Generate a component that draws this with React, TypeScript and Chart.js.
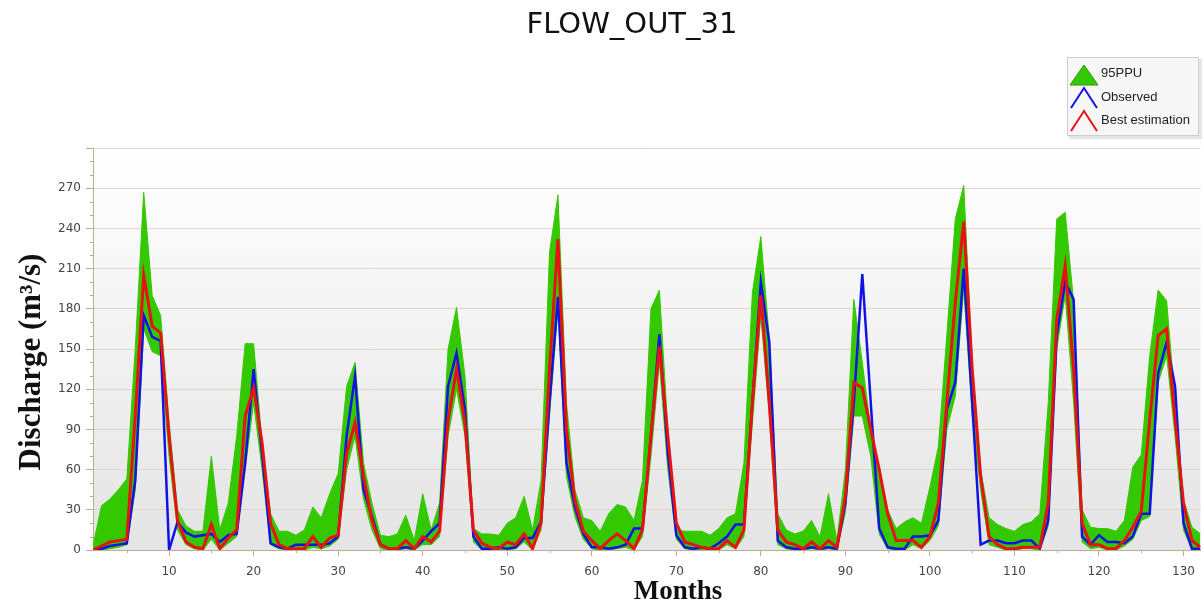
import React, { useEffect, useRef } from 'react';
import { Chart, registerables } from 'chart.js';

Chart.register(...registerables);

const chartTitle = 'FLOW_OUT_31';
const yAxisTitle = 'Discharge (m³/s)';
const xAxisTitle = 'Months';
const legendLabels = ['95PPU', 'Observed', 'Best estimation'];

const monthCount = 132;
const months = Array.from({ length: monthCount }, (_, i) => i + 1);

const upper95 = [
  3, 33, 38, 45, 53, 150, 267, 190, 175, 95,
  30, 18, 14, 14, 70, 15, 35, 85, 154, 154,
  80, 27, 14, 14, 11, 15, 32, 24, 42, 57,
  122, 140, 65, 35, 11, 10, 12, 26, 7, 42,
  15, 35, 150, 181, 130, 16, 12, 12, 11, 20,
  24, 40, 15, 52, 222, 265, 110, 45, 24, 22,
  14, 27, 34, 32, 22, 52, 180, 194, 90, 15,
  14, 14, 14, 11, 16, 24, 27, 65, 192, 234,
  158, 27, 15, 12, 14, 22, 10, 42, 7, 60,
  187, 140, 90, 62, 30, 16, 21, 24, 20, 47,
  77, 160, 247, 272, 140, 60, 24, 19, 16, 14,
  19, 21, 27, 110, 247, 252, 185, 30, 17, 16,
  16, 14, 22, 62, 71, 145, 194, 186, 110, 37,
  17, 12,
];

const lower95 = [
  0, 0, 1, 2, 4, 45, 165, 148, 145, 70,
  15, 4, 1, 0, 8, 0, 5, 10, 60, 110,
  60, 4, 1, 0, 0, 0, 2, 1, 3, 8,
  60, 85, 38, 15, 1, 0, 0, 1, 0, 4,
  4, 10, 85, 120, 85, 6, 0, 0, 0, 0,
  1, 6, 0, 15, 100, 180, 55, 25, 8, 1,
  0, 0, 1, 2, 0, 10, 70, 140, 60, 8,
  1, 0, 0, 0, 0, 4, 1, 10, 95, 175,
  100, 4, 1, 0, 0, 1, 0, 1, 0, 28,
  100, 100, 70, 12, 1, 0, 0, 4, 1, 7,
  18, 90, 115, 195, 100, 45, 4, 2, 0, 0,
  1, 1, 0, 18, 150, 190, 110, 6, 1, 2,
  0, 0, 3, 8, 22, 25, 125, 145, 85, 15,
  0, 0,
];

const observed = [
  0, 1, 3, 4, 5, 52, 175, 159, 156, 0,
  21, 13, 10, 11, 12, 6, 11, 12, 65, 135,
  72, 5, 2, 1, 4, 4, 4, 4, 5, 10,
  85, 130, 45, 25, 4, 1, 1, 2, 1, 7,
  14, 20, 122, 147, 105, 10, 1, 1, 2, 1,
  2, 9, 9, 21, 110, 189, 65, 32, 12, 2,
  2, 1, 2, 4, 16, 16, 85, 161, 72, 11,
  2, 1, 2, 1, 5, 10, 19, 19, 110, 200,
  155, 7, 2, 1, 1, 2, 1, 2, 1, 35,
  110, 206, 110, 16, 2, 1, 1, 10, 10, 11,
  22, 105, 125, 210, 110, 4, 7, 7, 5, 5,
  7, 7, 1, 22, 160, 200, 187, 10, 4, 11,
  6, 6, 5, 10, 27, 27, 132, 155, 122, 20,
  1, 1,
];

const bestEstimation = [
  0, 3, 6, 7, 8, 100, 205, 167, 162, 85,
  22, 6, 2, 1, 19, 1, 9, 15, 100, 121,
  80, 20, 4, 1, 1, 1, 10, 2, 9, 11,
  72, 95, 55, 22, 4, 1, 1, 7, 1, 10,
  6, 14, 97, 135, 95, 15, 5, 2, 1, 6,
  4, 12, 1, 20, 135, 232, 90, 37, 14, 7,
  1, 7, 12, 7, 1, 15, 85, 152, 85, 20,
  6, 4, 2, 1, 1, 7, 2, 15, 110, 190,
  110, 15, 6, 4, 1, 6, 1, 7, 2, 40,
  125, 121, 90, 60, 27, 7, 7, 7, 2, 10,
  35, 110, 185, 245, 135, 55, 10, 4, 1, 1,
  2, 2, 2, 35, 172, 212, 135, 20, 4, 4,
  1, 1, 7, 17, 29, 97, 160, 165, 97, 35,
  7, 2,
];

const xTickValues = [10, 20, 30, 40, 50, 60, 70, 80, 90, 100, 110, 120, 130];
const xMinorTickValues = [5, 15, 25, 35, 45, 55, 65, 75, 85, 95, 105, 115, 125];
const yMax = 300;
const yStep = 30;
const yMinorStep = 10;

const GREEN = 'rgb(52,200,0)';
const BLUE = '#1212e6';
const RED = '#e81212';
const GRID = 'rgb(222,214,200)';
const AXIS = 'rgb(190,172,145)';

const toPoints = (vals: number[]) => months.map((m, i) => ({ x: m, y: vals[i] }));

const decorPlugin = {
  id: 'decor',
  beforeDraw(chart: any) {
    const { ctx, chartArea } = chart;
    const g = ctx.createLinearGradient(0, chartArea.top, 0, chartArea.bottom);
    g.addColorStop(0, '#ffffff');
    g.addColorStop(1, '#e4e4e4');
    ctx.save();
    ctx.fillStyle = g;
    ctx.fillRect(chartArea.left, chartArea.top, chartArea.right - chartArea.left, chartArea.bottom - chartArea.top);
    ctx.restore();
  },
  afterDraw(chart: any) {
    const { ctx, chartArea, scales } = chart;
    const ys = scales.y;
    const xs = scales.x;
    ctx.save();
    // minor ticks
    ctx.strokeStyle = AXIS;
    ctx.lineWidth = 1;
    for (let v = 0; v <= yMax; v += yMinorStep) {
      if (v % yStep === 0) continue;
      const py = Math.round(ys.getPixelForValue(v)) + 0.5;
      ctx.beginPath();
      ctx.moveTo(chartArea.left - 3, py);
      ctx.lineTo(chartArea.left, py);
      ctx.stroke();
    }
    for (const v of xMinorTickValues) {
      const px = Math.round(xs.getPixelForValue(v)) + 0.5;
      ctx.beginPath();
      ctx.moveTo(px, chartArea.bottom);
      ctx.lineTo(px, chartArea.bottom + 3);
      ctx.stroke();
    }
    // title
    ctx.fillStyle = '#111';
    ctx.font = '29px "DejaVu Sans"';
    ctx.textAlign = 'center';
    ctx.textBaseline = 'middle';
    ctx.fillText(chartTitle, 632, 25);
    // x axis title
    ctx.font = 'bold 27px "Liberation Serif"';
    ctx.textBaseline = 'alphabetic';
    ctx.fillText(xAxisTitle, 678, 599);
    // y axis title
    ctx.save();
    ctx.translate(40, 362);
    ctx.rotate(-Math.PI / 2);
    ctx.font = 'bold 31px "Liberation Serif"';
    ctx.textAlign = 'center';
    ctx.textBaseline = 'alphabetic';
    ctx.fillText(yAxisTitle, 0, 0);
    ctx.restore();
    // legend box
    ctx.fillStyle = 'rgba(0,0,0,0.10)';
    ctx.fillRect(1069, 59, 133, 80);
    ctx.fillStyle = '#f7f7f7';
    ctx.fillRect(1067, 57, 132, 79);
    ctx.strokeStyle = '#cfcfcf';
    ctx.strokeRect(1067.5, 57.5, 131, 78);
    // icons
    ctx.beginPath();
    ctx.moveTo(1070, 85);
    ctx.lineTo(1084, 65);
    ctx.lineTo(1098, 85);
    ctx.closePath();
    ctx.fillStyle = GREEN;
    ctx.fill();
    ctx.strokeStyle = 'rgb(40,150,0)';
    ctx.stroke();
    ctx.lineWidth = 2;
    ctx.lineJoin = 'miter';
    ctx.strokeStyle = BLUE;
    ctx.beginPath();
    ctx.moveTo(1071, 108);
    ctx.lineTo(1084, 88);
    ctx.lineTo(1097, 108);
    ctx.stroke();
    ctx.strokeStyle = RED;
    ctx.beginPath();
    ctx.moveTo(1071, 131);
    ctx.lineTo(1084, 111);
    ctx.lineTo(1097, 131);
    ctx.stroke();
    ctx.fillStyle = '#222';
    ctx.font = '13px "Liberation Sans"';
    ctx.textAlign = 'left';
    ctx.textBaseline = 'middle';
    ctx.fillText(legendLabels[0], 1101, 73);
    ctx.fillText(legendLabels[1], 1101, 97);
    ctx.fillText(legendLabels[2], 1101, 120);
    ctx.restore();
  },
};

export default function App() {
  const ref = useRef<HTMLCanvasElement>(null);
  useEffect(() => {
    document.body.style.margin = '0';
    const chart = new Chart(ref.current as HTMLCanvasElement, {
      type: 'line',
      data: {
        datasets: [
          {
            label: legendLabels[0],
            data: toPoints(upper95),
            borderColor: GREEN,
            borderWidth: 1,
            backgroundColor: GREEN,
            pointRadius: 0,
            fill: '+1',
            order: 2,
          },
          {
            label: 'lower',
            data: toPoints(lower95),
            borderColor: GREEN,
            borderWidth: 1,
            backgroundColor: GREEN,
            pointRadius: 0,
            fill: false,
            order: 3,
          },
          {
            label: legendLabels[1],
            data: toPoints(observed),
            borderColor: BLUE,
            borderWidth: 2.5,
            pointRadius: 0,
            fill: false,
            order: 1,
          },
          {
            label: legendLabels[2],
            data: toPoints(bestEstimation),
            borderColor: RED,
            borderWidth: 3,
            pointRadius: 0,
            fill: false,
            order: 0,
          },
        ],
      },
      options: {
        animation: false,
        responsive: false,
        maintainAspectRatio: false,
        layout: { padding: { top: 148, right: 1, left: 0, bottom: 0 } },
        plugins: {
          legend: { display: false },
          title: { display: false },
          tooltip: { enabled: false },
        },
        elements: { line: { tension: 0 } },
        scales: {
          x: {
            type: 'linear',
            min: 1,
            max: monthCount,
            afterBuildTicks: (scale: any) => {
              scale.ticks = xTickValues.map((v) => ({ value: v }));
            },
            afterFit: (scale: any) => {
              scale.height = 54;
            },
            grid: {
              drawOnChartArea: false,
              drawTicks: true,
              tickLength: 6,
              tickColor: AXIS,
              color: AXIS,
            },
            border: { display: true, color: AXIS, width: 1 },
            ticks: {
              autoSkip: false,
              maxRotation: 0,
              padding: 9,
              color: '#444',
              font: { family: '"DejaVu Sans"', size: 12 },
            },
          },
          y: {
            type: 'linear',
            min: 0,
            max: yMax,
            afterFit: (scale: any) => {
              scale.width = 93;
            },
            grid: {
              color: GRID,
              tickColor: AXIS,
              tickLength: 7,
              drawTicks: true,
            },
            border: { display: true, color: AXIS, width: 1 },
            ticks: {
              stepSize: yStep,
              padding: 5,
              color: '#444',
              font: { family: '"DejaVu Sans"', size: 12 },
              callback: (v: any) => (Number(v) === yMax ? '' : String(v)),
            },
          },
        },
      },
      plugins: [decorPlugin],
    });
    return () => chart.destroy();
  }, []);
  return (
    <div style={{ position: 'fixed', left: 0, top: 0, width: 1204, height: 604, background: '#fff' }}>
      <canvas ref={ref} width={1204} height={604} style={{ display: 'block' }} />
    </div>
  );
}
